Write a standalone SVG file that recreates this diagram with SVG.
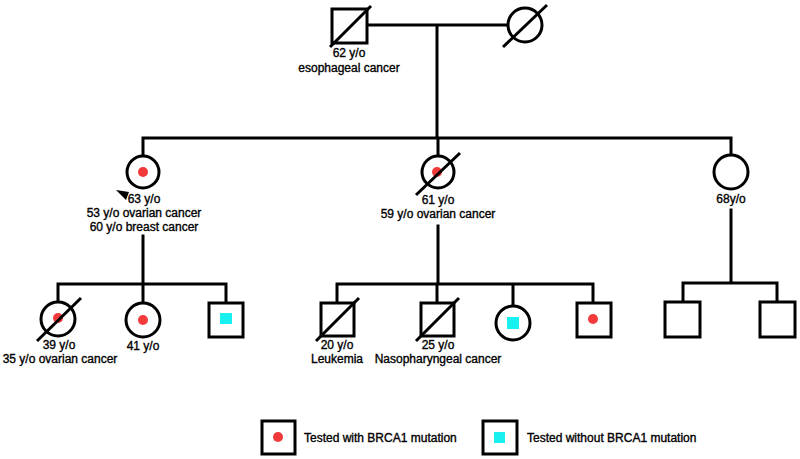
<svg xmlns="http://www.w3.org/2000/svg" width="800" height="459" viewBox="0 0 800 459">
<style>
.ln{stroke:#000;stroke-width:3;fill:none;stroke-linecap:square}
.sh{stroke:#000;stroke-width:3;fill:#fff}
.sl{stroke:#000;stroke-width:3;fill:none}
.red{fill:#f23a3a}
.cy{fill:#18f0f0}
text{font-family:"Liberation Sans",Arial,sans-serif;font-size:12px;fill:#000;stroke:#000;stroke-width:0.35;text-anchor:middle}
.lg{text-anchor:start}
</style>
<rect width="800" height="459" fill="#fff"/>
<g id="connectors">
<path class="ln" d="M367 25H508M437 25V138M143 138H731M143 138V156M438 138V156M731 138V155"/>
<path class="ln" d="M143 236V284M58 284H226M58 284V302M143 284V302M226 284V303"/>
<path class="ln" d="M438 226V284M337 284H593M337 284V303M437 284V303M513 284V306M593 284V303"/>
<path class="ln" d="M731 210V283M683 283H777M683 283V302M777 283V302"/>
</g>
<g id="grandfather">
<rect class="sh" x="332" y="9" width="35" height="34"/>
<line class="sl" x1="330" y1="47" x2="371" y2="6"/>
<text x="349" y="57">62 y/o</text>
<text x="349" y="72">esophageal cancer</text>
</g>
<g id="grandmother">
<circle class="sh" cx="525" cy="25" r="17"/>
<line class="sl" x1="503" y1="47" x2="547" y2="5"/>
</g>
<g id="proband">
<circle class="sh" cx="143" cy="172" r="16"/>
<circle class="red" cx="143" cy="172" r="5"/>
<polygon points="116,190 129,192 126,200" fill="#000"/>
<text x="144" y="203">63 y/o</text>
<text x="144" y="217">53 y/o ovarian cancer</text>
<text x="144" y="231">60 y/o breast cancer</text>
</g>
<g id="aunt1">
<circle class="sh" cx="438" cy="172" r="16"/>
<circle class="red" cx="437" cy="172" r="5"/>
<line class="sl" x1="416" y1="195" x2="460" y2="153"/>
<text x="438" y="204">61 y/o</text>
<text x="438" y="218">59 y/o ovarian cancer</text>
</g>
<g id="aunt2">
<circle class="sh" cx="731" cy="172" r="17"/>
<text x="731" y="203">68y/o</text>
</g>
<g id="c1">
<circle class="sh" cx="58" cy="319" r="17"/>
<circle class="red" cx="58" cy="318" r="5"/>
<line class="sl" x1="37" y1="341" x2="81" y2="298"/>
<text x="59" y="349">39 y/o</text>
<text x="60" y="363">35 y/o ovarian cancer</text>
</g>
<g id="c2">
<circle class="sh" cx="143" cy="320" r="17"/>
<circle class="red" cx="143" cy="320" r="5"/>
<text x="143" y="350">41 y/o</text>
</g>
<g id="c3">
<rect class="sh" x="209" y="303" width="34" height="34"/>
<rect class="cy" x="220" y="313" width="12" height="11"/>
</g>
<g id="c4">
<rect class="sh" x="321" y="303" width="33" height="33"/>
<line class="sl" x1="316" y1="341" x2="359" y2="298"/>
<text x="337" y="349">20 y/o</text>
<text x="337" y="363">Leukemia</text>
</g>
<g id="c5">
<rect class="sh" x="421" y="303" width="33" height="33"/>
<line class="sl" x1="416" y1="341" x2="459" y2="298"/>
<text x="438" y="349">25 y/o</text>
<text x="438" y="363">Nasopharyngeal cancer</text>
</g>
<g id="c6">
<circle class="sh" cx="513" cy="323" r="17"/>
<rect class="cy" x="507" y="317" width="12" height="12"/>
</g>
<g id="c7">
<rect class="sh" x="577" y="303" width="34" height="34"/>
<circle class="red" cx="593" cy="319" r="5"/>
</g>
<g id="c8">
<rect class="sh" x="665" y="302" width="35" height="35"/>
</g>
<g id="c9">
<rect class="sh" x="760" y="302" width="35" height="35"/>
</g>
<g id="legend">
<rect class="sh" x="262" y="421" width="33" height="33"/>
<circle class="red" cx="278" cy="437" r="5"/>
<text class="lg" x="304" y="442">Tested with BRCA1 mutation</text>
<rect class="sh" x="483" y="421" width="34" height="33"/>
<rect class="cy" x="494" y="432" width="11" height="11"/>
<text class="lg" x="527" y="442">Tested without BRCA1 mutation</text>
</g>
</svg>
